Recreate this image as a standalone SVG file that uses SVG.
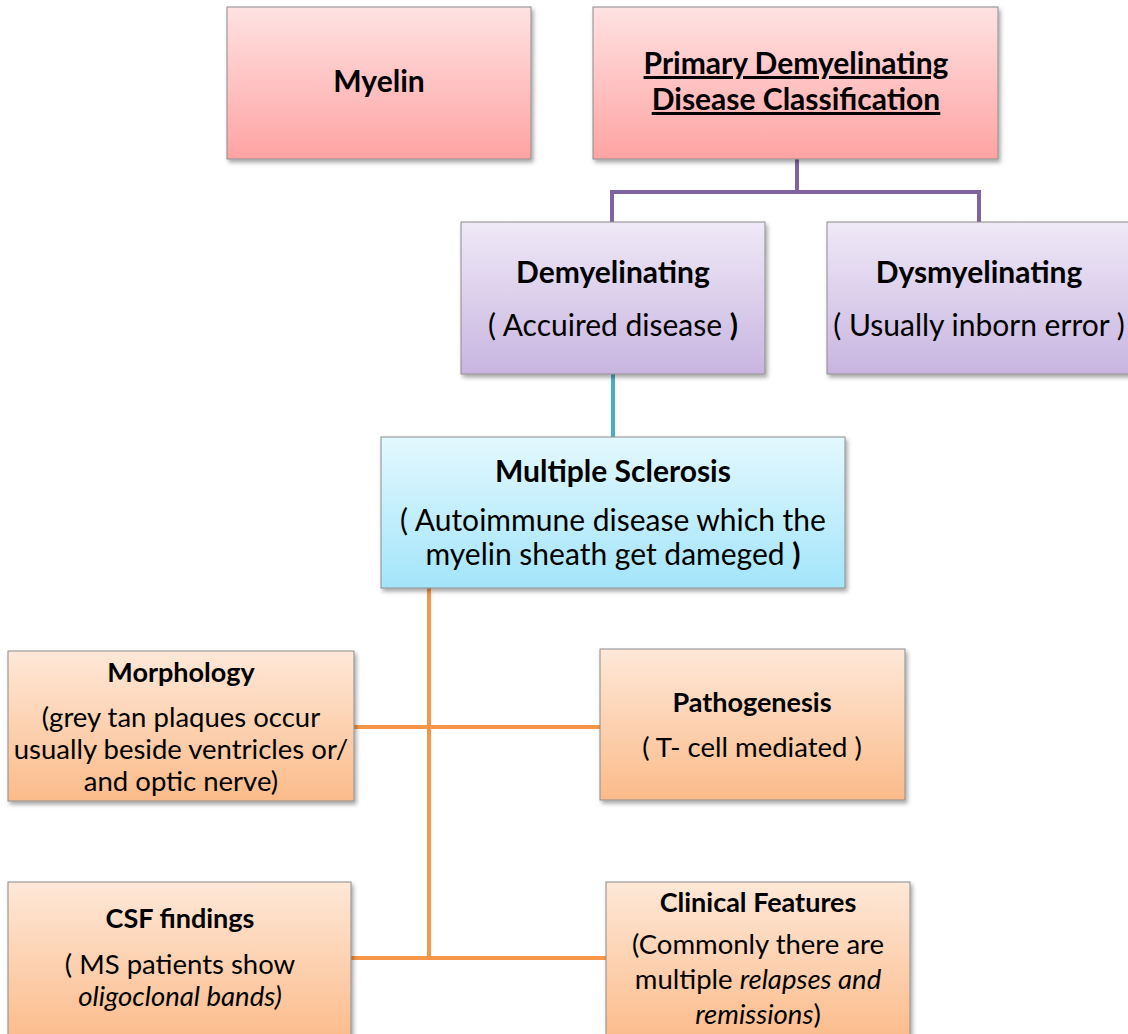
<svg xmlns="http://www.w3.org/2000/svg" width="1128" height="1034" viewBox="0 0 1128 1034">
<defs>
<linearGradient id="gRed" x1="0" y1="0" x2="0" y2="1"><stop offset="0" stop-color="#ffe2e2"/><stop offset="1" stop-color="#ffa3a3"/></linearGradient>
<linearGradient id="gPurple" x1="0" y1="0" x2="0" y2="1"><stop offset="0" stop-color="#efe9f7"/><stop offset="1" stop-color="#c8b5e0"/></linearGradient>
<linearGradient id="gCyan" x1="0" y1="0" x2="0" y2="1"><stop offset="0" stop-color="#e3f8fe"/><stop offset="1" stop-color="#a3e5fa"/></linearGradient>
<linearGradient id="gOrange" x1="0" y1="0" x2="0" y2="1"><stop offset="0" stop-color="#fee8d8"/><stop offset="1" stop-color="#fbbb8a"/></linearGradient>
<filter id="shadow" x="-10%" y="-10%" width="130%" height="130%"><feDropShadow dx="2" dy="3" stdDeviation="2" flood-color="#000" flood-opacity="0.35"/></filter>
</defs>
<style>
.box{stroke:#8c8c8c;stroke-width:1;filter:url(#shadow)}
text{font-family:Lato,"Liberation Sans",sans-serif;fill:#000;text-anchor:middle}
.t1{font-size:30px;font-weight:bold}
.b1{font-size:30px}
.t2{font-size:27px;font-weight:bold}
.b2{font-size:27.5px}
.b{font-weight:bold}
.i{font-style:italic}
.u{text-decoration:underline}
.conn{fill:none;stroke-width:4}
</style>
<g id="connectors">
<path class="conn" stroke="#8064a2" d="M797,159 V192 M612,222 V192 H979 V222"/>
<path class="conn" stroke="#4bacc6" d="M613,374 V437"/>
<path class="conn" stroke="#f79646" d="M429,588 V958 M354,727 H600 M351,958 H606"/>
</g>
<g id="myelin">
<rect class="box" x="227" y="7" width="304" height="152" fill="url(#gRed)"/>
<text class="t1" x="379" y="92">Myelin</text>
</g>
<g id="primary">
<rect class="box" x="593" y="7" width="405" height="152" fill="url(#gRed)"/>
<text class="t1 u" x="796" y="74">Primary Demyelinating</text>
<text class="t1 u" x="796" y="110">Disease Classification</text>
</g>
<g id="demyelinating">
<rect class="box" x="461" y="222" width="304" height="152" fill="url(#gPurple)"/>
<text class="t1" x="613" y="283">Demyelinating</text>
<text class="b1" x="613" y="336">( Accuired disease <tspan class="b">)</tspan></text>
</g>
<g id="dysmyelinating">
<rect class="box" x="827" y="222" width="310" height="152" fill="url(#gPurple)"/>
<text class="t1" x="979" y="283">Dysmyelinating</text>
<text class="b1" x="979" y="336">( Usually inborn error )</text>
</g>
<g id="ms">
<rect class="box" x="381" y="437" width="464" height="151" fill="url(#gCyan)"/>
<text class="t1" x="613" y="482">Multiple Sclerosis</text>
<text class="b1" x="613" y="531">( Autoimmune disease which the</text>
<text class="b1" x="613" y="565">myelin sheath get dameged <tspan class="b">)</tspan></text>
</g>
<g id="morphology">
<rect class="box" x="8" y="651" width="346" height="150" fill="url(#gOrange)"/>
<text class="t2" x="181" y="682">Morphology</text>
<text class="b2" x="181" y="727">(grey tan plaques occur</text>
<text class="b2" x="181" y="759">usually beside ventricles or/</text>
<text class="b2" x="181" y="791">and optic nerve)</text>
</g>
<g id="pathogenesis">
<rect class="box" x="600" y="649" width="305" height="151" fill="url(#gOrange)"/>
<text class="t2" x="752" y="712">Pathogenesis</text>
<text class="b2" x="752" y="757">( T- cell mediated )</text>
</g>
<g id="csf">
<rect class="box" x="8" y="882" width="343" height="160" fill="url(#gOrange)"/>
<text class="t2" x="180" y="928">CSF findings</text>
<text class="b2" x="180" y="974">(  MS patients show</text>
<text class="b2 i" x="180" y="1006">oligoclonal bands)</text>
</g>
<g id="clinical">
<rect class="box" x="606" y="882" width="304" height="160" fill="url(#gOrange)"/>
<text class="t2" x="758" y="912">Clinical Features</text>
<text class="b2" x="758" y="954">(Commonly there are</text>
<text class="b2" x="758" y="989">multiple <tspan class="i">relapses and</tspan></text>
<text class="b2" x="758" y="1024"><tspan class="i">remissions</tspan>)</text>
</g>
</svg>
